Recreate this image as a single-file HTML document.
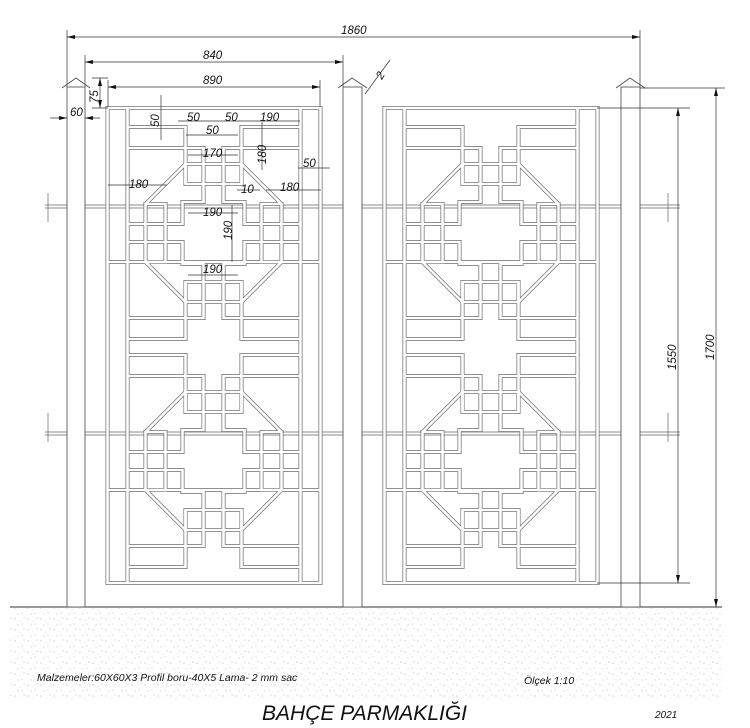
<!DOCTYPE html>
<html><head><meta charset="utf-8"><style>
html,body{margin:0;padding:0;background:#fff;}
svg{display:block;}
text{font-family:"Liberation Sans",sans-serif;font-style:italic;fill:#111;}
</style></head><body>
<svg width="750" height="728" viewBox="0 0 750 728" xmlns="http://www.w3.org/2000/svg">
<defs>
<pattern id="dots" width="13" height="11" patternUnits="userSpaceOnUse">
<circle cx="2" cy="3" r="0.55" fill="#888"/><circle cx="9" cy="8" r="0.5" fill="#999"/><circle cx="11" cy="2" r="0.45" fill="#888"/><circle cx="5" cy="9" r="0.5" fill="#999"/><circle cx="7" cy="5" r="0.4" fill="#aaa"/>
</pattern>
<g id="q">
<path d="M-86,-106 H-28 V-49"/>
<path d="M-86,-85 H-10 V-31 H-31 V-9 H-86"/>
<path d="M-28,-69 L-68,-29"/>
</g>
<g id="m">
<use href="#q"/>
<use href="#q" transform="scale(-1,1)"/>
<use href="#q" transform="scale(1,-1)"/>
<use href="#q" transform="scale(-1,-1)"/>
<rect x="-28" y="-69" width="56" height="20"/>
<rect x="-28" y="49" width="56" height="20"/>
<rect x="-68" y="-29" width="20" height="58"/>
<rect x="48" y="-29" width="20" height="58"/>
<path d="M-106,29 H106"/>
</g>
<g id="panel">
<rect x="-106" y="-125" width="213" height="475"/>
<path d="M-86,-125 V350 M87,-125 V350"/>
<use href="#m"/>
<use href="#m" transform="translate(0,228)"/>
</g>
</defs>

<!-- ground -->
<rect x="10" y="608" width="712" height="92" fill="url(#dots)" opacity="0.85"/>
<line x1="10" y1="607" x2="722" y2="607" stroke="#333" stroke-width="1"/>

<!-- rails -->
<g stroke="#666" stroke-width="0.7">
<path d="M45,205 H680 M45,208 H680 M45,432 H680 M45,435 H680"/>
<path d="M48,193 V222 M48,413 V442 M668,193 V222 M668,413 V442"/>
</g>

<!-- panels -->
<g fill="none" stroke="#6a6a6a" stroke-width="4">
<use href="#panel" transform="translate(213.5,233)"/>
<use href="#panel" transform="translate(490.5,233)"/>
</g>
<g fill="none" stroke="#fff" stroke-width="2.6">
<use href="#panel" transform="translate(213.5,233)"/>
<use href="#panel" transform="translate(490.5,233)"/>
</g>

<!-- posts -->
<g fill="#fff" stroke="#444" stroke-width="0.8">
<rect x="67" y="87" width="18" height="520"/>
<rect x="343" y="87" width="19" height="520"/>
<rect x="621" y="87" width="19" height="520"/>
</g>
<g fill="none" stroke="#444" stroke-width="0.8">
<path d="M62,88 L76,78 L90,88"/>
<path d="M338,88 L352,78 L367,88"/>
<path d="M616,88 L630,78 L645,88"/>
</g>

<!-- dimensions -->
<g stroke="#333" stroke-width="0.7" fill="none">
<path d="M67,30 V87 M640,30 V87 M67,37 H640"/>
<path d="M85,55 V87 M343,55 V87 M85,62 H343"/>
<path d="M108,80 V107 M320,80 V107 M108,87 H320"/>
<path d="M92,78 H108 M92,108 H108 M100,78 V108"/>
<path d="M50,118 H67 M85,118 H100"/>
<path d="M597,108 H690 M597,583 H690 M678,108 V583"/>
<path d="M640,88 H725 M716,88 V607"/>
<path d="M365,94 L390,60"/>
<path d="M161,95 V140 M178,121 H300 M186,135 H238 M188,155 H238 M262,122 V170 M298,168 H330 M108,185 H167 M237,190 H260 M266,190 H321 M188,213 H238 M232,205 V262 M188,275 H238"/>
</g>
<g fill="#111">
<path d="M67,37 l8,-2 v4z M640,37 l-8,-2 v4z"/>
<path d="M85,62 l8,-2 v4z M343,62 l-8,-2 v4z"/>
<path d="M108,87 l8,-2 v4z M320,87 l-8,-2 v4z"/>
<path d="M100,78 l-2,8 h4z M100,108 l-2,-8 h4z"/>
<path d="M67,118 l-8,-2 v4z M85,118 l8,-2 v4z"/>
<path d="M678,108 l-2,8 h4z M678,583 l-2,-8 h4z"/>
<path d="M716,88 l-2,8 h4z M716,607 l-2,-8 h4z"/>
</g>

<g font-size="11.5">
<text x="341" y="34">1860</text>
<text x="203" y="59">840</text>
<text x="203" y="84">890</text>
<text x="70" y="116">60</text>
<text x="98" y="103" transform="rotate(-90 98 103)">75</text>
<text x="382" y="80" transform="rotate(-60 382 80)">2</text>
<text x="676" y="370" transform="rotate(-90 676 370)">1550</text>
<text x="714" y="360" transform="rotate(-90 714 360)">1700</text>
<text x="159" y="127" transform="rotate(-90 159 127)">50</text>
<text x="187" y="121">50</text>
<text x="225" y="121">50</text>
<text x="260" y="121">190</text>
<text x="206" y="134">50</text>
<text x="203" y="157">170</text>
<text x="266" y="164" transform="rotate(-90 266 164)">180</text>
<text x="303" y="167">50</text>
<text x="129" y="188">180</text>
<text x="241" y="193">10</text>
<text x="280" y="191">180</text>
<text x="203" y="216">190</text>
<text x="232" y="240" transform="rotate(-90 232 240)">190</text>
<text x="203" y="273">190</text>
</g>

<text x="37" y="681" font-size="10.5">Malzemeler:60X60X3 Profil boru-40X5 Lama-  2 mm sac</text>
<text x="524" y="684" font-size="10.5">Ölçek 1:10</text>
<text x="262" y="720" font-size="21">BAHÇE PARMAKLIĞI</text>
<text x="655" y="718" font-size="10">2021</text>
</svg>
</body></html>
